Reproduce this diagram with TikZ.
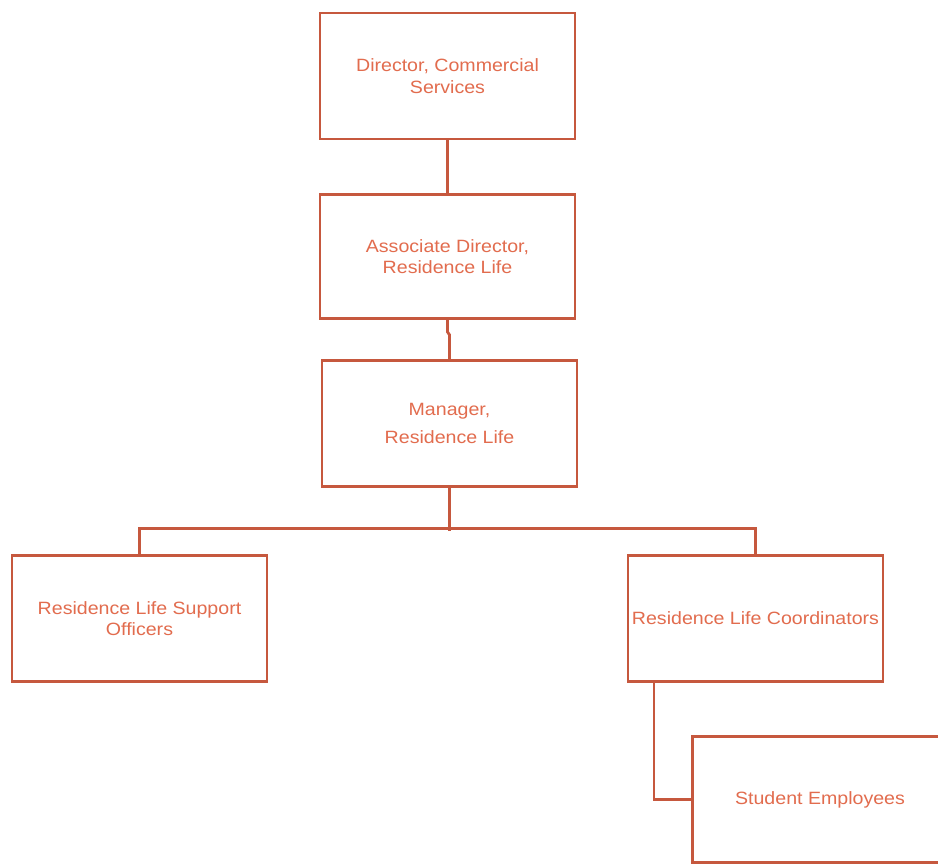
\documentclass[tikz,border=0pt]{standalone}
\usepackage{fontspec}
\setmainfont[FakeStretch=1.1]{Liberation Sans}
\begin{document}
\begin{tikzpicture}[x=1pt,y=-1pt,line join=miter,line cap=rect]
    \definecolor{vien}{RGB}{198,88,62}
    \definecolor{chu}{RGB}{226,108,78}
    \tikzset{hop/.style={draw=vien,line width=2.8pt,fill=white,text=chu,
            minimum width=255pt,minimum height=126pt,align=center,inner sep=2pt,
            font=\fontsize{17.8}{21.5}\selectfont},
        noi/.style={draw=vien,line width=2.8pt}}
    \useasboundingbox (0,0) rectangle (938,864);
    \node[hop] (dir) at (447.5,76) {Director, Commercial\\Services};
    \node[hop,minimum height=124pt] (assoc) at (447.5,256.5) {Associate Director,\\Residence Life};
    \node[hop] (manager) at (449.5,423.5) {Manager,\\[6pt]Residence Life};
    \node[hop] (support) at (139.5,618.5) {Residence Life Support\\Officers};
    \node[hop] (coord) at (755.5,618.5) {Residence Life Coordinators};
    \node[hop] (student) at (820,799.5) {Student Employees};
    \draw[noi] (dir.south)--(assoc.north);
    \draw[noi] (assoc.south)--++(0,12)--++(2,3)--(manager.north);
    \draw[noi] (manager.south)--++(0,42);
    \draw[noi] (support.north)--++(0,-26)-|(coord.north);
    \draw[noi] ([xshift=-101.5pt]coord.south)|-(student.west);
\end{tikzpicture}
\end{document}
